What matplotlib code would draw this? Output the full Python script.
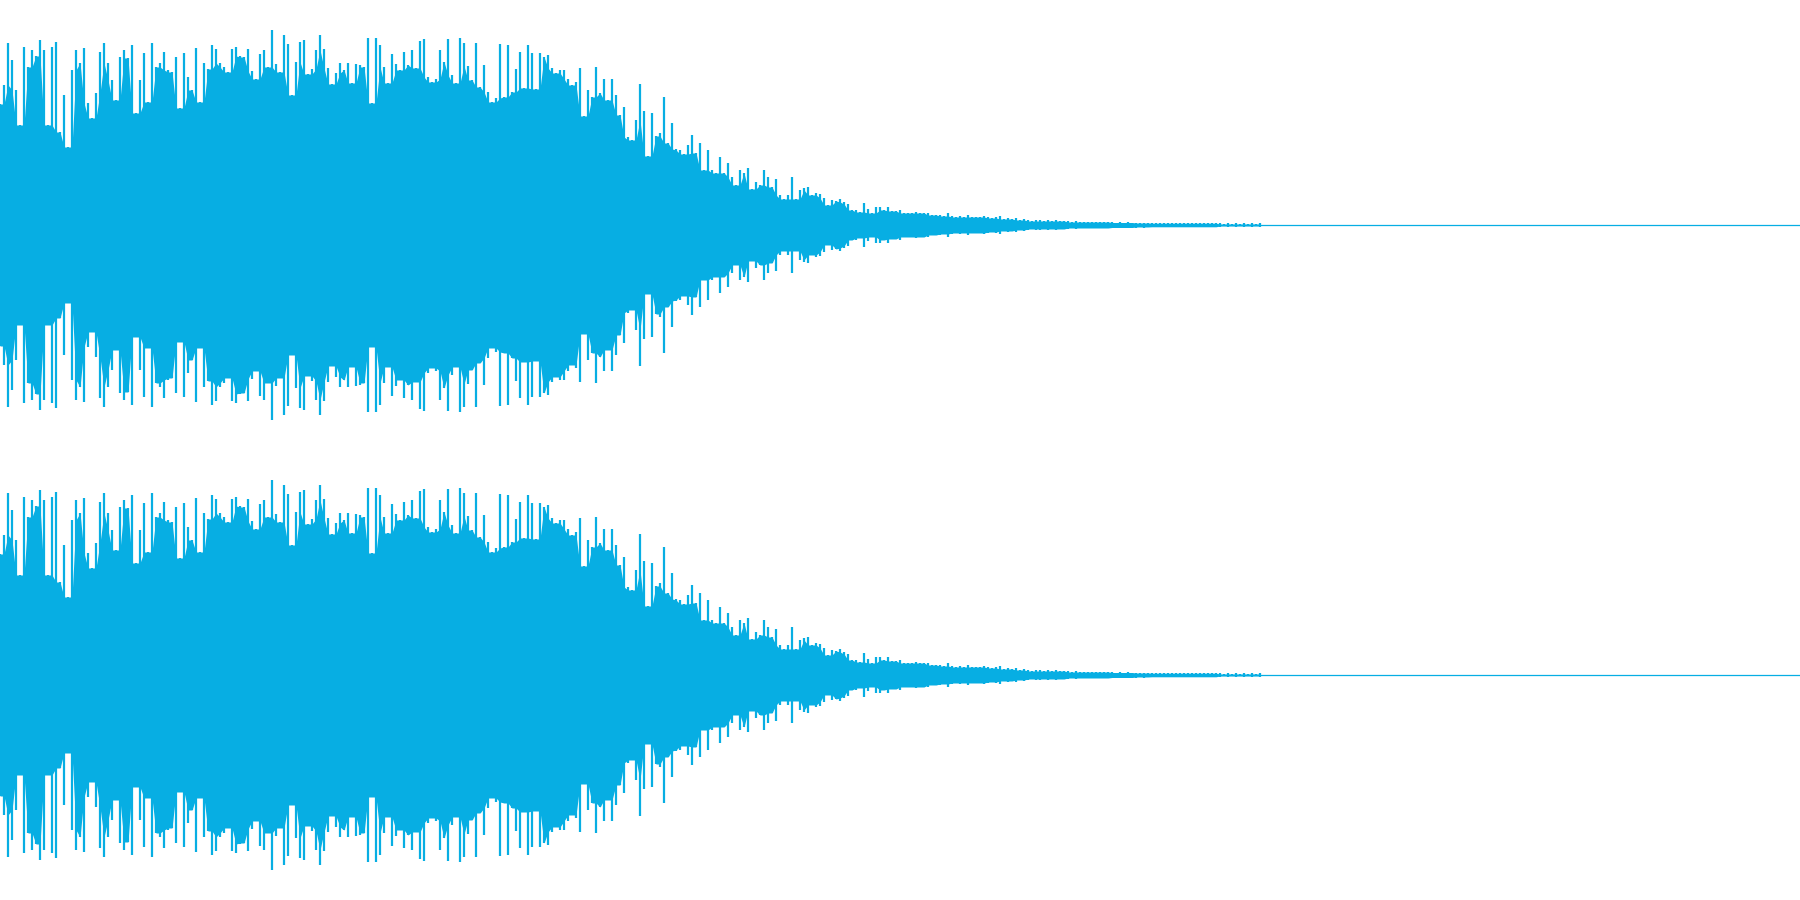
import numpy as np
import matplotlib
matplotlib.use("Agg")
import matplotlib.pyplot as plt

# Peak level per display frame (full scale = 225)
FULL_SCALE = 225.0
TOTAL_FRAMES = 450

attack_sustain_a = [121, 140, 182, 165, 135, 100, 178, 158, 175, 169, 185, 175, 100, 178, 183,
                    93, 130, 78, 155, 175, 162, 177, 122, 107, 132, 173, 182, 162, 145, 125,
                    168, 175, 167, 180, 112, 145, 172, 123, 182, 158, 162, 173, 155, 153, 168,
                    117, 172, 148, 135, 177]
sustain_b = [123, 162, 156, 180, 176, 162, 158, 153, 176, 178, 169, 168, 176, 154, 146,
             171, 175, 158, 195, 161, 153, 190, 181, 130, 163, 183, 185, 151, 156, 175,
             190, 176, 157, 141, 152, 162, 155, 162, 142, 161, 160, 158, 187, 122, 187,
             180, 158, 142, 171, 161]
sustain_c = [155, 173, 160, 175, 157, 184, 186, 148, 143, 146, 175, 163, 186, 150, 142,
             187, 182, 159, 145, 182, 138, 160, 133, 123, 127, 181, 128, 180, 133, 156,
             173, 137, 180, 172, 136, 172, 168, 170, 157, 152, 155, 155, 146, 140, 143,
             157, 109, 135, 128, 158]
decay_d = [132, 146, 125, 146, 130, 110, 118, 88, 85, 105, 141, 114, 69, 112, 89,
           92, 128, 82, 102, 76, 75, 71, 80, 90, 72, 82, 55, 75, 55, 52,
           68, 52, 62, 48, 40, 55, 52, 57, 36, 43, 40, 55, 48, 38, 46,
           30, 26, 30, 48, 26]
decay_e = [35, 37, 38, 30, 32, 31, 27, 20, 25, 24, 26, 23, 21, 15, 15,
           13, 22, 16, 12, 18, 18, 15, 18, 14, 14, 15, 12, 12, 12, 13,
           12, 12, 12, 10, 10, 10, 9, 12, 9, 8, 9, 8, 10, 8, 8,
           8, 9, 8, 7, 8, 9, 6, 7, 6, 7, 5, 6, 5, 4, 5,
           5, 4, 5, 4, 5, 4, 4, 4, 3, 4, 3, 3, 3, 3, 3,
           3, 3]
tail_f = [3, 3, 2.5, 3, 2.5, 3, 2.5, 2.5, 2, 2.5, 2, 2,
          1.8, 1.8, 1.8, 1.8, 1.8, 1.8, 1.8, 1.8, 1.8, 1.8, 1.8, 1.8, 1.8, 1.8, 1.8, 1.8, 1.8,
          1, 2, 1, 1.8, 1, 1.8, 1, 2, 1, 2]

peak_levels = np.array(attack_sustain_a + sustain_b + sustain_c + decay_d + decay_e + tail_f)
amplitude = peak_levels / FULL_SCALE
frames = np.arange(len(amplitude))

# dense body of the waveform: lowest peak among neighbouring frames
padded = np.pad(amplitude, 1, mode="edge")
body = np.minimum(np.minimum(padded[:-2], padded[1:-1]), padded[2:])

WAVE_COLOR = "#07aee3"

fig = plt.figure(figsize=(18, 9), dpi=100)
fig.patch.set_facecolor("white")

for bottom in (0.5, 0.0):  # two identical channels (left, right)
    ax = fig.add_axes([0, bottom, 1, 0.5])
    ax.fill_between(frames, -body, body, color=WAVE_COLOR, linewidth=0)
    ax.vlines(frames, -amplitude, amplitude, color=WAVE_COLOR, linewidth=1.6)
    ax.axhline(0, color=WAVE_COLOR, linewidth=0.9)
    ax.set_xlim(0, TOTAL_FRAMES)
    ax.set_ylim(-1, 1)
    ax.axis("off")

fig.savefig("out.png", dpi=100, facecolor="white")
